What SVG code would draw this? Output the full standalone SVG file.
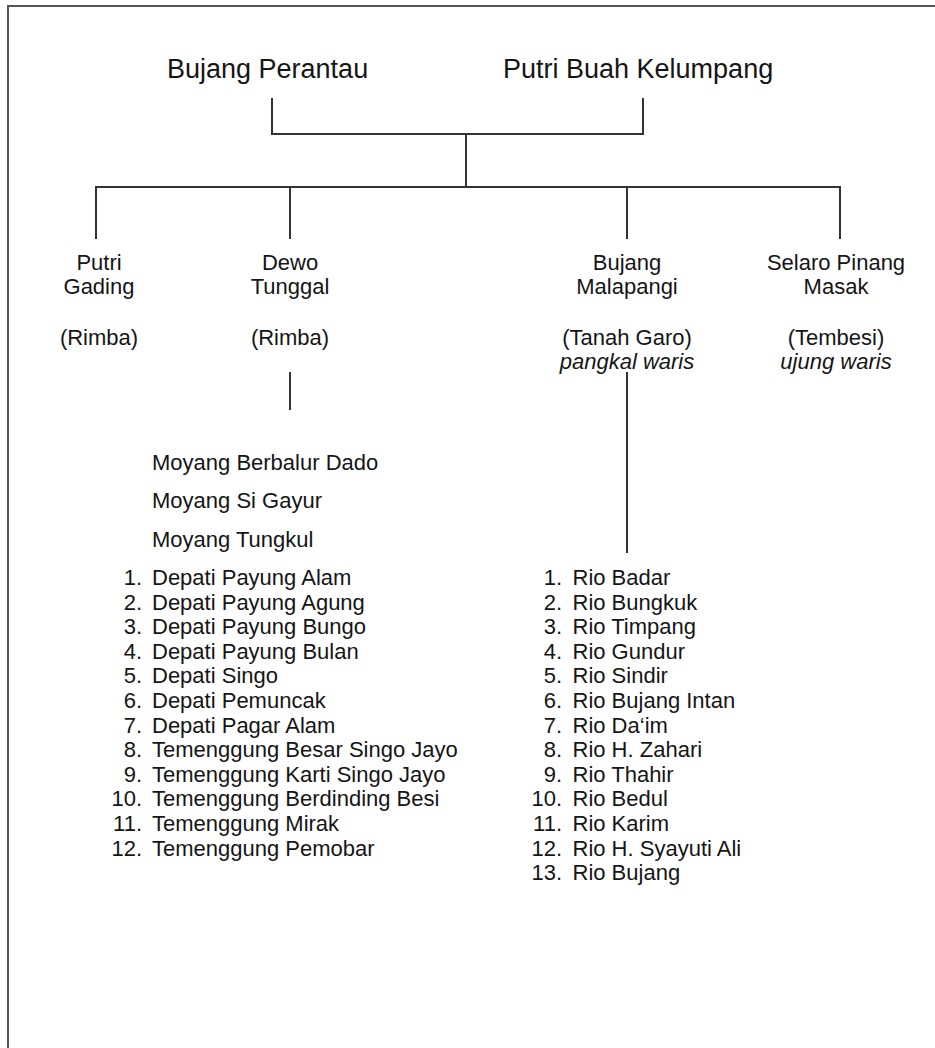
<svg xmlns="http://www.w3.org/2000/svg" width="935" height="1048" viewBox="0 0 935 1048">
<style>
text{font-family:"Liberation Sans",Arial,sans-serif;fill:#151515;}
.t{font-size:27px;}
.c{font-size:22px;text-anchor:middle;}
.i{font-style:italic;}
.l{font-size:22px;}
.n{font-size:22px;text-anchor:end;}
.ln{fill:none;stroke:#333;stroke-width:2;}
.bd{fill:none;stroke:#555;stroke-width:2;}
</style>
<rect width="935" height="1048" fill="#fff"/>
<path class="bd" d="M935 6H8V1048"/>
<g id="connectors">
<path class="ln" d="M272 98V134H643V98M466 134V187M96 239V187H840V239M290 187V239M627 187V239"/>
<path class="ln" d="M290 372V410"/>
<path class="ln" d="M627 372V553"/>
</g>
<g id="bujang-perantau"><text class="t" x="167" y="78">Bujang Perantau</text></g>
<g id="putri-buah-kelumpang"><text class="t" x="503" y="78">Putri Buah Kelumpang</text></g>
<g id="putri-gading">
<text class="c" x="99" y="270">Putri</text>
<text class="c" x="99" y="294">Gading</text>
<text class="c" x="99" y="345">(Rimba)</text>
</g>
<g id="dewo-tunggal">
<text class="c" x="290" y="270">Dewo</text>
<text class="c" x="290" y="294">Tunggal</text>
<text class="c" x="290" y="345">(Rimba)</text>
</g>
<g id="bujang-malapangi">
<text class="c" x="627" y="270">Bujang</text>
<text class="c" x="627" y="294">Malapangi</text>
<text class="c" x="627" y="345">(Tanah Garo)</text>
<text class="c i" x="627" y="369">pangkal waris</text>
</g>
<g id="selaro-pinang-masak">
<text class="c" x="836" y="270">Selaro Pinang</text>
<text class="c" x="836" y="294">Masak</text>
<text class="c" x="836" y="345">(Tembesi)</text>
<text class="c i" x="836" y="369">ujung waris</text>
</g>
<g id="moyang">
<text class="l" x="152" y="470">Moyang Berbalur Dado</text>
<text class="l" x="152" y="508">Moyang Si Gayur</text>
<text class="l" x="152" y="547">Moyang Tungkul</text>
</g>
<g id="depati-list">
<text class="n" x="142" y="585">1.</text><text class="l" x="152" y="585">Depati Payung Alam</text>
<text class="n" x="142" y="609.6">2.</text><text class="l" x="152" y="609.6">Depati Payung Agung</text>
<text class="n" x="142" y="634.2">3.</text><text class="l" x="152" y="634.2">Depati Payung Bungo</text>
<text class="n" x="142" y="658.8">4.</text><text class="l" x="152" y="658.8">Depati Payung Bulan</text>
<text class="n" x="142" y="683.4">5.</text><text class="l" x="152" y="683.4">Depati Singo</text>
<text class="n" x="142" y="708">6.</text><text class="l" x="152" y="708">Depati Pemuncak</text>
<text class="n" x="142" y="732.6">7.</text><text class="l" x="152" y="732.6">Depati Pagar Alam</text>
<text class="n" x="142" y="757.2">8.</text><text class="l" x="152" y="757.2">Temenggung Besar Singo Jayo</text>
<text class="n" x="142" y="781.8">9.</text><text class="l" x="152" y="781.8">Temenggung Karti Singo Jayo</text>
<text class="n" x="142" y="806.4">10.</text><text class="l" x="152" y="806.4">Temenggung Berdinding Besi</text>
<text class="n" x="142" y="831">11.</text><text class="l" x="152" y="831">Temenggung Mirak</text>
<text class="n" x="142" y="855.6">12.</text><text class="l" x="152" y="855.6">Temenggung Pemobar</text>
</g>
<g id="rio-list">
<text class="n" x="562" y="585">1.</text><text class="l" x="572.5" y="585">Rio Badar</text>
<text class="n" x="562" y="609.6">2.</text><text class="l" x="572.5" y="609.6">Rio Bungkuk</text>
<text class="n" x="562" y="634.2">3.</text><text class="l" x="572.5" y="634.2">Rio Timpang</text>
<text class="n" x="562" y="658.8">4.</text><text class="l" x="572.5" y="658.8">Rio Gundur</text>
<text class="n" x="562" y="683.4">5.</text><text class="l" x="572.5" y="683.4">Rio Sindir</text>
<text class="n" x="562" y="708">6.</text><text class="l" x="572.5" y="708">Rio Bujang Intan</text>
<text class="n" x="562" y="732.6">7.</text><text class="l" x="572.5" y="732.6">Rio Da‘im</text>
<text class="n" x="562" y="757.2">8.</text><text class="l" x="572.5" y="757.2">Rio H. Zahari</text>
<text class="n" x="562" y="781.8">9.</text><text class="l" x="572.5" y="781.8">Rio Thahir</text>
<text class="n" x="562" y="806.4">10.</text><text class="l" x="572.5" y="806.4">Rio Bedul</text>
<text class="n" x="562" y="831">11.</text><text class="l" x="572.5" y="831">Rio Karim</text>
<text class="n" x="562" y="855.6">12.</text><text class="l" x="572.5" y="855.6">Rio H. Syayuti Ali</text>
<text class="n" x="562" y="880.2">13.</text><text class="l" x="572.5" y="880.2">Rio Bujang</text>
</g>
</svg>
